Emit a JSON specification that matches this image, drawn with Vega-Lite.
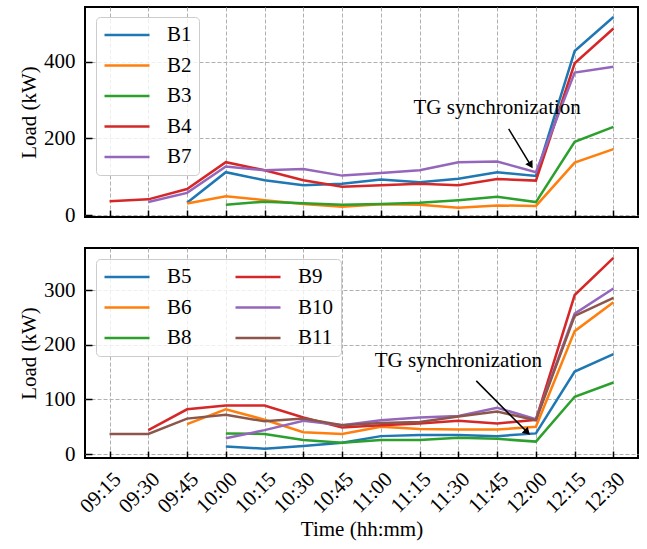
{
  "$schema": "https://vega.github.io/schema/vega-lite/v6.json",
  "padding": {"left": 17, "top": 6, "right": 5, "bottom": 2},
  "spacing": 20,
  "resolve": {"scale": {"color": "independent"}, "legend": {"color": "independent"}},
  "config": {
    "font": "Times New Roman, Liberation Serif, DejaVu Serif, serif",
    "view": {"stroke": "black", "strokeWidth": 2},
    "axis": {
      "domain": false,
      "tickColor": "black",
      "tickWidth": 1.5,
      "tickSize": -7,
      "labelPadding": 17,
      "labelFontSize": 21,
      "labelColor": "black",
      "labelOverlap": false,
      "titleFontSize": 21,
      "titleFontWeight": "normal",
      "titleColor": "black",
      "gridColor": "#b0b0b0",
      "gridDash": [4, 2],
      "gridWidth": 1
    },
    "legend": {
      "orient": "none",
      "legendX": 11,
      "title": null,
      "symbolType": "stroke",
      "symbolSize": 2025,
      "symbolStrokeWidth": 2.5,
      "labelFontSize": 21,
      "labelColor": "black",
      "labelOffset": 16,
      "clipHeight": 22,
      "rowPadding": 8.5,
      "padding": 7,
      "fillColor": "rgba(255,255,255,0.8)",
      "strokeColor": "#cccccc",
      "cornerRadius": 4
    }
  },
  "vconcat": [
    {
      "width": 553,
      "height": 210,
      "layer": [
        {
          "data": {
            "values": [
              {"series": "B1", "time": "2024-01-01T09:45", "load": 32},
              {"series": "B1", "time": "2024-01-01T10:00", "load": 112},
              {"series": "B1", "time": "2024-01-01T10:15", "load": 91},
              {"series": "B1", "time": "2024-01-01T10:30", "load": 78},
              {"series": "B1", "time": "2024-01-01T10:45", "load": 82},
              {"series": "B1", "time": "2024-01-01T11:00", "load": 93},
              {"series": "B1", "time": "2024-01-01T11:15", "load": 86},
              {"series": "B1", "time": "2024-01-01T11:30", "load": 95},
              {"series": "B1", "time": "2024-01-01T11:45", "load": 112},
              {"series": "B1", "time": "2024-01-01T12:00", "load": 102},
              {"series": "B1", "time": "2024-01-01T12:15", "load": 428},
              {"series": "B1", "time": "2024-01-01T12:30", "load": 517},
              {"series": "B2", "time": "2024-01-01T09:45", "load": 30},
              {"series": "B2", "time": "2024-01-01T10:00", "load": 49},
              {"series": "B2", "time": "2024-01-01T10:15", "load": 39},
              {"series": "B2", "time": "2024-01-01T10:30", "load": 29},
              {"series": "B2", "time": "2024-01-01T10:45", "load": 22},
              {"series": "B2", "time": "2024-01-01T11:00", "load": 28},
              {"series": "B2", "time": "2024-01-01T11:15", "load": 27},
              {"series": "B2", "time": "2024-01-01T11:30", "load": 19},
              {"series": "B2", "time": "2024-01-01T11:45", "load": 25},
              {"series": "B2", "time": "2024-01-01T12:00", "load": 24},
              {"series": "B2", "time": "2024-01-01T12:15", "load": 137},
              {"series": "B2", "time": "2024-01-01T12:30", "load": 172},
              {"series": "B3", "time": "2024-01-01T10:00", "load": 27},
              {"series": "B3", "time": "2024-01-01T10:15", "load": 35},
              {"series": "B3", "time": "2024-01-01T10:30", "load": 31},
              {"series": "B3", "time": "2024-01-01T10:45", "load": 27},
              {"series": "B3", "time": "2024-01-01T11:00", "load": 29},
              {"series": "B3", "time": "2024-01-01T11:15", "load": 32},
              {"series": "B3", "time": "2024-01-01T11:30", "load": 39},
              {"series": "B3", "time": "2024-01-01T11:45", "load": 48},
              {"series": "B3", "time": "2024-01-01T12:00", "load": 34},
              {"series": "B3", "time": "2024-01-01T12:15", "load": 191},
              {"series": "B3", "time": "2024-01-01T12:30", "load": 230},
              {"series": "B4", "time": "2024-01-01T09:15", "load": 36},
              {"series": "B4", "time": "2024-01-01T09:30", "load": 41},
              {"series": "B4", "time": "2024-01-01T09:45", "load": 68},
              {"series": "B4", "time": "2024-01-01T10:00", "load": 138},
              {"series": "B4", "time": "2024-01-01T10:15", "load": 117},
              {"series": "B4", "time": "2024-01-01T10:30", "load": 91},
              {"series": "B4", "time": "2024-01-01T10:45", "load": 74},
              {"series": "B4", "time": "2024-01-01T11:00", "load": 78},
              {"series": "B4", "time": "2024-01-01T11:15", "load": 82},
              {"series": "B4", "time": "2024-01-01T11:30", "load": 78},
              {"series": "B4", "time": "2024-01-01T11:45", "load": 94},
              {"series": "B4", "time": "2024-01-01T12:00", "load": 90},
              {"series": "B4", "time": "2024-01-01T12:15", "load": 396},
              {"series": "B4", "time": "2024-01-01T12:30", "load": 487},
              {"series": "B7", "time": "2024-01-01T09:30", "load": 34},
              {"series": "B7", "time": "2024-01-01T09:45", "load": 58},
              {"series": "B7", "time": "2024-01-01T10:00", "load": 127},
              {"series": "B7", "time": "2024-01-01T10:15", "load": 117},
              {"series": "B7", "time": "2024-01-01T10:30", "load": 120},
              {"series": "B7", "time": "2024-01-01T10:45", "load": 103},
              {"series": "B7", "time": "2024-01-01T11:00", "load": 110},
              {"series": "B7", "time": "2024-01-01T11:15", "load": 117},
              {"series": "B7", "time": "2024-01-01T11:30", "load": 138},
              {"series": "B7", "time": "2024-01-01T11:45", "load": 140},
              {"series": "B7", "time": "2024-01-01T12:00", "load": 112},
              {"series": "B7", "time": "2024-01-01T12:15", "load": 372},
              {"series": "B7", "time": "2024-01-01T12:30", "load": 387}
            ]
          },
          "mark": {"type": "line", "strokeWidth": 2.5},
          "encoding": {
            "x": {
              "field": "time", "type": "temporal",
              "scale": {"nice": false, "domain": [
                {"year": 2024, "month": 1, "date": 1, "hours": 9, "minutes": 5, "seconds": 30},
                {"year": 2024, "month": 1, "date": 1, "hours": 12, "minutes": 39, "seconds": 30}]},
              "axis": {"labels": false, "title": null}
            },
            "y": {
              "field": "load", "type": "quantitative",
              "scale": {"domain": [-5, 543], "nice": false, "zero": false},
              "axis": {"values": [0, 200, 400], "title": "Load (kW)"}
            },
            "color": {
              "field": "series", "type": "nominal",
              "scale": {"domain": ["B1", "B2", "B3", "B4", "B7"], "range": ["#1f77b4", "#ff7f0e", "#2ca02c", "#d62728", "#9467bd"]},
              "legend": {"legendY": 10}
            }
          }
        },
        {
          "data": {"values": [{"label": "TG synchronization", "time": "2024-01-01T11:45", "load": 280}]},
          "mark": {"type": "text", "fontSize": 21, "align": "center", "baseline": "middle", "color": "black"},
          "encoding": {"x": {"field": "time", "type": "temporal"}, "y": {"field": "load", "type": "quantitative"}, "text": {"field": "label"}}
        },
        {
          "data": {"values": [
            {"part": "start", "time": "2024-01-01T11:49:27", "load": 225},
            {"part": "head", "time": "2024-01-01T11:58:00", "load": 130}
          ]},
          "mark": {"type": "line", "color": "black", "strokeWidth": 1.5},
          "encoding": {"x": {"field": "time", "type": "temporal"}, "y": {"field": "load", "type": "quantitative"}}
        },
        {
          "data": {"values": [{"part": "head", "time": "2024-01-01T11:58:00", "load": 130}]},
          "mark": {"type": "point", "shape": "triangle-down", "filled": true, "color": "black", "size": 70, "angle": 329, "opacity": 1},
          "encoding": {"x": {"field": "time", "type": "temporal"}, "y": {"field": "load", "type": "quantitative"}}
        }
      ]
    },
    {
      "width": 553,
      "height": 210,
      "layer": [
        {
          "data": {
            "values": [
              {"series": "B5", "time": "2024-01-01T10:00", "load": 14},
              {"series": "B5", "time": "2024-01-01T10:15", "load": 10},
              {"series": "B5", "time": "2024-01-01T10:30", "load": 15},
              {"series": "B5", "time": "2024-01-01T10:45", "load": 21},
              {"series": "B5", "time": "2024-01-01T11:00", "load": 33},
              {"series": "B5", "time": "2024-01-01T11:15", "load": 35},
              {"series": "B5", "time": "2024-01-01T11:30", "load": 35},
              {"series": "B5", "time": "2024-01-01T11:45", "load": 33},
              {"series": "B5", "time": "2024-01-01T12:00", "load": 38},
              {"series": "B5", "time": "2024-01-01T12:15", "load": 151},
              {"series": "B5", "time": "2024-01-01T12:30", "load": 183},
              {"series": "B6", "time": "2024-01-01T09:45", "load": 55},
              {"series": "B6", "time": "2024-01-01T10:00", "load": 82},
              {"series": "B6", "time": "2024-01-01T10:15", "load": 63},
              {"series": "B6", "time": "2024-01-01T10:30", "load": 40},
              {"series": "B6", "time": "2024-01-01T10:45", "load": 37},
              {"series": "B6", "time": "2024-01-01T11:00", "load": 50},
              {"series": "B6", "time": "2024-01-01T11:15", "load": 46},
              {"series": "B6", "time": "2024-01-01T11:30", "load": 45},
              {"series": "B6", "time": "2024-01-01T11:45", "load": 45},
              {"series": "B6", "time": "2024-01-01T12:00", "load": 50},
              {"series": "B6", "time": "2024-01-01T12:15", "load": 225},
              {"series": "B6", "time": "2024-01-01T12:30", "load": 278},
              {"series": "B8", "time": "2024-01-01T10:00", "load": 38},
              {"series": "B8", "time": "2024-01-01T10:15", "load": 37},
              {"series": "B8", "time": "2024-01-01T10:30", "load": 26},
              {"series": "B8", "time": "2024-01-01T10:45", "load": 21},
              {"series": "B8", "time": "2024-01-01T11:00", "load": 26},
              {"series": "B8", "time": "2024-01-01T11:15", "load": 26},
              {"series": "B8", "time": "2024-01-01T11:30", "load": 30},
              {"series": "B8", "time": "2024-01-01T11:45", "load": 28},
              {"series": "B8", "time": "2024-01-01T12:00", "load": 23},
              {"series": "B8", "time": "2024-01-01T12:15", "load": 105},
              {"series": "B8", "time": "2024-01-01T12:30", "load": 131},
              {"series": "B9", "time": "2024-01-01T09:30", "load": 44},
              {"series": "B9", "time": "2024-01-01T09:45", "load": 82},
              {"series": "B9", "time": "2024-01-01T10:00", "load": 89},
              {"series": "B9", "time": "2024-01-01T10:15", "load": 89},
              {"series": "B9", "time": "2024-01-01T10:30", "load": 67},
              {"series": "B9", "time": "2024-01-01T10:45", "load": 49},
              {"series": "B9", "time": "2024-01-01T11:00", "load": 53},
              {"series": "B9", "time": "2024-01-01T11:15", "load": 56},
              {"series": "B9", "time": "2024-01-01T11:30", "load": 61},
              {"series": "B9", "time": "2024-01-01T11:45", "load": 56},
              {"series": "B9", "time": "2024-01-01T12:00", "load": 63},
              {"series": "B9", "time": "2024-01-01T12:15", "load": 291},
              {"series": "B9", "time": "2024-01-01T12:30", "load": 359},
              {"series": "B10", "time": "2024-01-01T10:00", "load": 29},
              {"series": "B10", "time": "2024-01-01T10:15", "load": 44},
              {"series": "B10", "time": "2024-01-01T10:30", "load": 61},
              {"series": "B10", "time": "2024-01-01T10:45", "load": 53},
              {"series": "B10", "time": "2024-01-01T11:00", "load": 62},
              {"series": "B10", "time": "2024-01-01T11:15", "load": 67},
              {"series": "B10", "time": "2024-01-01T11:30", "load": 70},
              {"series": "B10", "time": "2024-01-01T11:45", "load": 85},
              {"series": "B10", "time": "2024-01-01T12:00", "load": 64},
              {"series": "B10", "time": "2024-01-01T12:15", "load": 257},
              {"series": "B10", "time": "2024-01-01T12:30", "load": 303},
              {"series": "B11", "time": "2024-01-01T09:15", "load": 37},
              {"series": "B11", "time": "2024-01-01T09:30", "load": 37},
              {"series": "B11", "time": "2024-01-01T09:45", "load": 65},
              {"series": "B11", "time": "2024-01-01T10:00", "load": 72},
              {"series": "B11", "time": "2024-01-01T10:15", "load": 60},
              {"series": "B11", "time": "2024-01-01T10:30", "load": 65},
              {"series": "B11", "time": "2024-01-01T10:45", "load": 53},
              {"series": "B11", "time": "2024-01-01T11:00", "load": 57},
              {"series": "B11", "time": "2024-01-01T11:15", "load": 59},
              {"series": "B11", "time": "2024-01-01T11:30", "load": 69},
              {"series": "B11", "time": "2024-01-01T11:45", "load": 78},
              {"series": "B11", "time": "2024-01-01T12:00", "load": 62},
              {"series": "B11", "time": "2024-01-01T12:15", "load": 253},
              {"series": "B11", "time": "2024-01-01T12:30", "load": 286}
            ]
          },
          "mark": {"type": "line", "strokeWidth": 2.5},
          "encoding": {
            "x": {
              "field": "time", "type": "temporal",
              "scale": {"nice": false, "domain": [
                {"year": 2024, "month": 1, "date": 1, "hours": 9, "minutes": 5, "seconds": 30},
                {"year": 2024, "month": 1, "date": 1, "hours": 12, "minutes": 39, "seconds": 30}]},
              "axis": {"title": "Time (hh:mm)", "format": "%H:%M", "labelAngle": -45, "titlePadding": 2}
            },
            "y": {
              "field": "load", "type": "quantitative",
              "scale": {"domain": [-7, 377], "nice": false, "zero": false},
              "axis": {"values": [0, 100, 200, 300], "title": "Load (kW)"}
            },
            "color": {
              "field": "series", "type": "nominal",
              "scale": {"domain": ["B5", "B6", "B8", "B9", "B10", "B11"], "range": ["#1f77b4", "#ff7f0e", "#2ca02c", "#d62728", "#9467bd", "#8c564b"]},
              "legend": {"legendY": 11, "columns": 2, "columnPadding": 42}
            }
          }
        },
        {
          "data": {"values": [{"label": "TG synchronization", "time": "2024-01-01T11:30", "load": 171}]},
          "mark": {"type": "text", "fontSize": 21, "align": "center", "baseline": "middle", "color": "black"},
          "encoding": {"x": {"field": "time", "type": "temporal"}, "y": {"field": "load", "type": "quantitative"}, "text": {"field": "label"}}
        },
        {
          "data": {"values": [
            {"part": "start", "time": "2024-01-01T11:36:55", "load": 134},
            {"part": "head", "time": "2024-01-01T11:56:40", "load": 40}
          ]},
          "mark": {"type": "line", "color": "black", "strokeWidth": 1.5},
          "encoding": {"x": {"field": "time", "type": "temporal"}, "y": {"field": "load", "type": "quantitative"}}
        },
        {
          "data": {"values": [{"part": "head", "time": "2024-01-01T11:56:40", "load": 40}]},
          "mark": {"type": "point", "shape": "triangle-down", "filled": true, "color": "black", "size": 70, "angle": 315, "opacity": 1},
          "encoding": {"x": {"field": "time", "type": "temporal"}, "y": {"field": "load", "type": "quantitative"}}
        }
      ]
    }
  ]
}
